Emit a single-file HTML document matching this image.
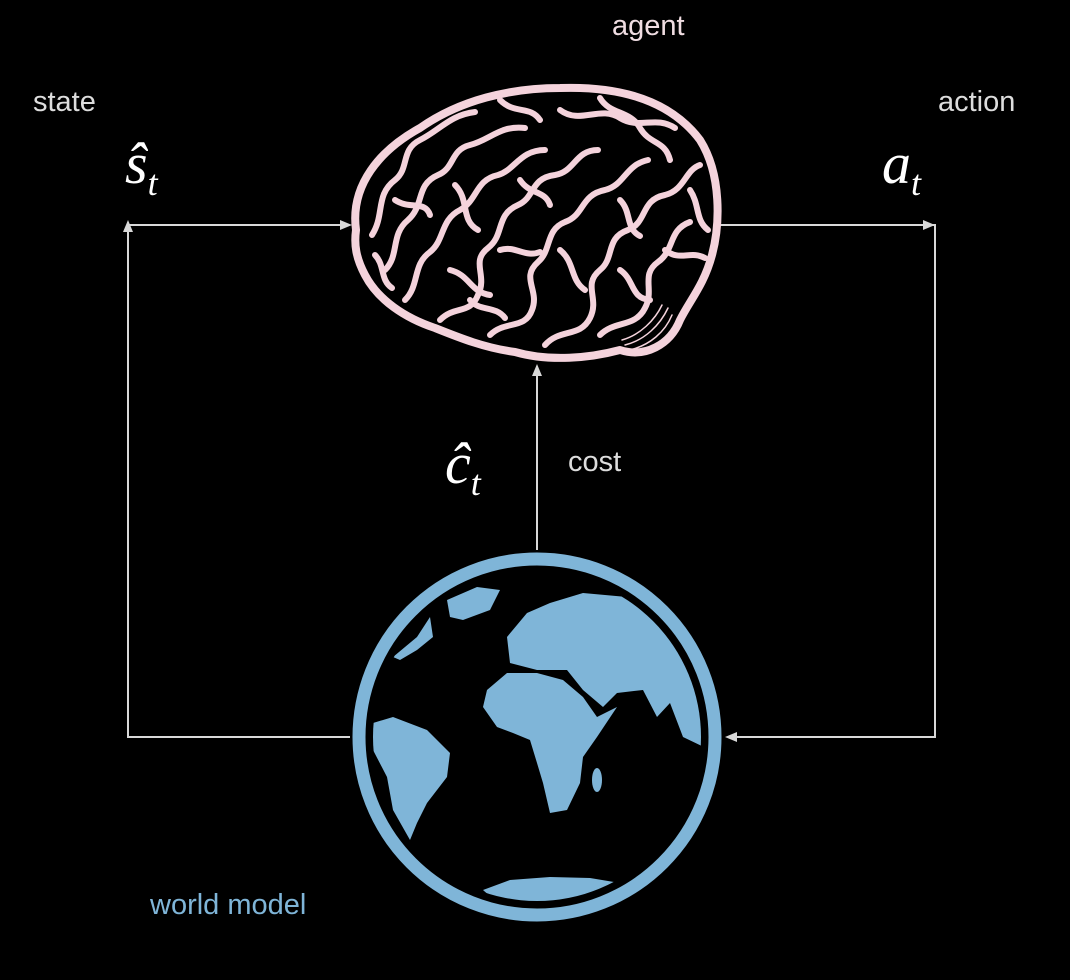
<!DOCTYPE html>
<html><head><style>
html,body{margin:0;padding:0;background:#000;}
body{width:1070px;height:980px;position:relative;overflow:hidden;font-family:"Liberation Sans",sans-serif;}
.t{position:absolute;color:#ddd;font-size:29px;}
.m{position:absolute;color:#fff;font-family:"Liberation Serif",serif;font-style:italic;font-size:58px;}
.m sub{font-size:36px;vertical-align:-12px;}
</style></head><body>
<svg width="1070" height="980" style="position:absolute;left:0;top:0">
<g stroke="#d8d8d8" stroke-width="2" fill="none">
<polyline points="350,737 128,737 128,232"/>
<line x1="128" y1="225" x2="345" y2="225"/>
<polyline points="720,225 935,225 935,737 735,737"/>
<line x1="537" y1="550" x2="537" y2="372"/>
</g>
<g fill="#d8d8d8">
<polygon points="128,220 123,232 133,232"/>
<polygon points="352,225 340,220 340,230"/>
<polygon points="935,225 923,220 923,230"/>
<polygon points="725,737 737,732 737,742"/>
<polygon points="537,364 532,376 542,376"/>
</g>
<!-- brain -->
<g stroke="#f4d3dc" fill="none" stroke-linecap="round" stroke-linejoin="round">
<path stroke-width="8" d="M356,230 C350,185 380,150 420,128 C460,100 510,88 560,88 C620,86 670,100 700,140 C722,175 720,225 712,255 C704,285 690,300 680,320 C670,345 645,358 620,350 C590,358 550,362 515,352 C485,348 460,338 435,328 C405,318 378,300 365,275 C356,258 354,245 356,230 Z"/>
<g stroke-width="6">
<path d="M372,235 C385,215 375,195 395,180 C410,168 400,150 420,140 C440,130 450,115 475,112"/>
<path d="M385,270 C400,255 390,235 408,220 C425,205 415,185 438,175 C455,168 450,150 470,145 C490,140 500,125 525,128"/>
<path d="M405,300 C420,285 412,265 430,252 C445,240 440,220 460,210 C478,200 475,180 498,175 C515,170 520,150 545,150"/>
<path d="M440,320 C455,305 470,315 478,295 C488,275 470,262 488,248 C505,235 495,215 518,205 C535,198 530,178 555,175 C575,172 575,150 598,150"/>
<path d="M490,335 C505,320 525,330 532,310 C540,290 520,278 538,262 C552,250 545,230 565,222 C585,215 580,195 605,190 C625,185 625,165 648,160"/>
<path d="M545,345 C560,328 580,338 590,318 C600,298 582,285 600,270 C615,258 605,238 628,230 C648,222 640,200 665,195 C685,190 685,170 700,165"/>
<path d="M600,335 C615,320 635,328 645,308 C655,290 640,275 658,262 C675,250 668,230 690,222"/>
<path d="M560,110 C580,125 600,105 620,118 C640,130 655,115 675,128"/>
<path d="M600,98 C610,115 630,110 640,128 C650,145 665,140 670,160"/>
<path d="M500,100 C515,115 530,105 540,120"/>
<path d="M395,200 C410,210 425,200 430,215"/>
<path d="M455,185 C470,200 460,220 478,230"/>
<path d="M560,250 C575,262 570,280 585,290"/>
<path d="M620,270 C635,280 630,298 650,300"/>
<path d="M665,250 C680,262 690,250 705,258"/>
<path d="M450,270 C470,275 470,292 490,295"/>
<path d="M500,250 C515,245 525,258 540,252"/>
<path d="M520,180 C530,195 545,190 550,205"/>
<path d="M620,200 C632,212 625,228 640,236"/>
<path d="M690,190 C700,205 695,220 708,230"/>
<path d="M375,255 C385,265 380,280 392,288"/>
<path d="M470,300 C480,312 495,305 505,318"/>
</g>
<g stroke-width="1.5"><path d="M625,345 C645,340 660,325 668,308 M630,350 C650,345 665,332 672,315 M622,340 C640,335 655,320 662,305"/></g>
</g>
<!-- globe -->
<circle cx="537" cy="737" r="178" fill="#000" stroke="#7fb5d8" stroke-width="13"/>
<clipPath id="c"><circle cx="537" cy="737" r="164"/></clipPath>
<g fill="#7fb5d8" clip-path="url(#c)">
<polygon points="507,637 527,613 550,603 583,593 627,597 667,617 697,650 703,690 710,750 683,737 670,703 657,717 643,690 617,693 603,707 583,690 567,670 537,670 510,663"/>
<polygon points="487,690 507,673 537,673 563,680 583,697 597,717 617,707 597,737 583,757 580,783 567,810 550,813 543,783 537,763 530,740 513,733 497,727 483,707"/>
<polygon points="373,723 393,717 427,730 450,753 447,777 427,803 417,823 410,840 393,810 387,777 373,750"/>
<polygon points="447,600 477,587 500,590 490,610 463,620 450,617"/>
<polygon points="393,657 417,637 430,617 433,637 417,650 400,660"/>
<polygon points="483,890 510,880 550,877 590,878 620,883 603,897 550,905 500,905"/>
<ellipse cx="597" cy="780" rx="5" ry="12"/>
</g>
</svg>
<div class="t" style="left:612px;top:10px;color:#f0dde2">agent</div>
<div class="t" style="left:33px;top:86px">state</div>
<div class="t" style="left:938px;top:86px">action</div>
<div class="t" style="left:568px;top:446px">cost</div>
<div class="t" style="left:150px;top:889px;color:#7fb5d8">world model</div>
<div class="m" style="left:125px;top:130px">ŝ<sub>t</sub></div>
<div class="m" style="left:882px;top:130px">a<sub>t</sub></div>
<div class="m" style="left:445px;top:430px">ĉ<sub>t</sub></div>
</body></html>
